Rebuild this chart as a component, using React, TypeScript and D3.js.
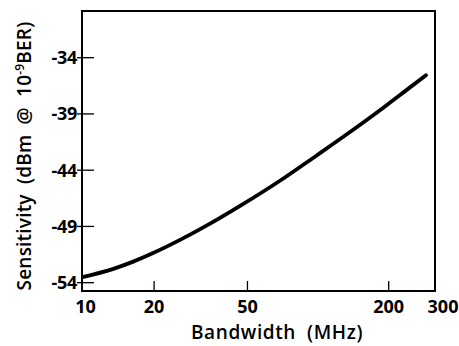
import React from "react";
import * as d3 from "d3";

const bandwidth = [10, 13.4, 16.3, 19.8, 25.8, 35.7, 46.5, 71.1, 98.6, 136.8, 189.7, 246.5, 288.4];
const sensitivity = [-53.49, -52.77, -52.13, -51.37, -50.2, -48.6, -47.18, -44.74, -42.69, -40.61, -38.45, -36.64, -35.56];
const xTicks = [10, 20, 50, 200, 300];
const yTicks = [-34, -39, -44, -49, -54];

const W = 459, H = 346;
const left = 82, top = 11, right = 435, bottom = 291;

export default function App() {
  const x = d3.scaleLog().domain([10, 300]).range([83.5, 430]);
  const y = d3.scaleLinear().domain([-54.74, -29.85]).range([bottom, top]);
  const pts = bandwidth.map((b, i) => [b, sensitivity[i]] as [number, number]);
  const line = d3.line<[number, number]>().x(d => Math.max(left + 1, x(d[0]))).y(d => y(d[1])).curve(d3.curveMonotoneX);
  const font = "'Open Sans', 'DejaVu Sans', sans-serif";
  return (
    <svg width={W} height={H} style={{ position: "absolute", left: 0, top: 0, background: "#fff" }}>
      <rect x={left} y={top} width={right - left} height={bottom - top} fill="none" stroke="#000" strokeWidth={2} />
      {yTicks.map(t => (
        <g key={t}>
          <line x1={left - 5} x2={left + 12} y1={y(t)} y2={y(t)} stroke="#000" strokeWidth={1.3} />
          <text x={left - 5} y={y(t)} dy="0.36em" textAnchor="end" fontFamily={font} fontWeight={700} fontSize={18} letterSpacing={-0.3} fill="#000">{t}</text>
        </g>
      ))}
      {xTicks.map(t => (
        <g key={t}>
          {t !== 10 && t !== 300 && (
            <line x1={x(t)} x2={x(t)} y1={bottom} y2={bottom - 10} stroke="#000" strokeWidth={1.3} />
          )}
          <text x={x(t) + (t === 300 ? 13 : t === 10 ? 2 : 0)} y={bottom + 22} textAnchor="middle" fontFamily={font} fontWeight={700} fontSize={18} fill="#000">{t}</text>
        </g>
      ))}
      <path d={line(pts) || ""} fill="none" stroke="#000" strokeWidth={3.8} strokeLinecap="round" />
      <text x={277} y={339} textAnchor="middle" fontFamily={font} fontWeight={600} fontSize={19} letterSpacing={0.6} fill="#000" xmlSpace="preserve">Bandwidth  (MHz)</text>
      <text transform={`translate(31,156) rotate(-90)`} textAnchor="middle" fontFamily={font} fontWeight={600} fontSize={19} letterSpacing={0.2} fill="#000" xmlSpace="preserve">
        Sensitivity  (dBm  @  10<tspan dy="-7" fontSize={12}>-9</tspan><tspan dy="7">BER)</tspan>
      </text>
    </svg>
  );
}
